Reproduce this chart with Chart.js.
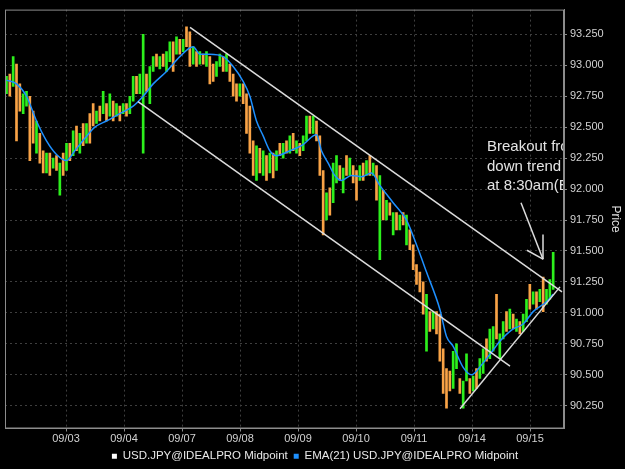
<!DOCTYPE html>
<html>
<head>
<meta charset="utf-8">
<script src="https://cdn.jsdelivr.net/npm/chart.js@4.4.1/dist/chart.umd.min.js"></script>
<style>
  html, body { margin: 0; padding: 0; background: #000; }
</style>
</head>
<body>
<canvas id="c" width="625" height="469"></canvas>
<script>
// one bar per price interval, left to right (x = bar index)
const highs = [
  92.91, 92.93, 93.07, 93.01, 92.85, 92.77, 92.79, 92.75, 92.63, 92.55,
  92.45, 92.31, 92.29, 92.29, 92.25, 92.27, 92.21, 92.29, 92.37, 92.37,
  92.47, 92.51, 92.45, 92.53, 92.53, 92.61, 92.69, 92.63, 92.67, 92.79,
  92.69, 92.77, 92.71, 92.69, 92.67, 92.69, 92.69, 92.75, 92.91, 92.91,
  92.93, 93.25, 92.93, 92.99, 93.07, 93.09, 93.07, 93.09, 93.11, 93.19,
  93.19, 93.23, 93.21, 93.21, 93.31, 93.27, 93.15, 93.11, 93.11, 93.09,
  93.11, 93.07, 93.01, 93.03, 93.09, 93.07, 93.09, 93.01, 92.93, 92.85,
  92.85, 92.85, 92.77, 92.67, 92.39, 92.35, 92.33, 92.31, 92.27, 92.29,
  92.29, 92.31, 92.37, 92.37, 92.39, 92.43, 92.45, 92.39, 92.37, 92.43,
  92.59, 92.59, 92.59, 92.55, 92.43, 92.15, 91.97, 92.01, 92.21, 92.27,
  92.19, 92.17, 92.27, 92.25, 92.19, 92.15, 92.19, 92.21, 92.23, 92.27,
  92.21, 92.19, 92.11, 91.99, 91.91, 91.89, 91.81, 91.81, 91.79, 91.81,
  91.79, 91.67, 91.55, 91.39, 91.33, 91.25, 91.15, 91.01, 91.01, 91.01,
  90.99, 90.71, 90.55, 90.53, 90.69, 90.75, 90.47, 90.45, 90.67, 90.47,
  90.49, 90.55, 90.63, 90.71, 90.79, 90.87, 90.89, 91.15, 90.83, 90.93,
  91.01, 91.03, 90.99, 90.95, 90.93, 90.99, 91.11, 91.23, 91.17, 91.17,
  91.19, 91.29, 91.19, 91.27, 91.49
];
const lows = [
  92.77, 92.75, 92.83, 92.39, 92.63, 92.61, 92.67, 92.23, 92.37, 92.29,
  92.21, 92.13, 92.13, 92.11, 92.17, 92.15, 91.95, 92.11, 92.15, 92.23,
  92.27, 92.31, 92.29, 92.35, 92.37, 92.37, 92.51, 92.53, 92.55, 92.61,
  92.55, 92.59, 92.55, 92.59, 92.55, 92.61, 92.59, 92.61, 92.71, 92.77,
  92.77, 92.29, 92.79, 92.69, 92.95, 92.99, 92.97, 92.99, 92.95, 93.03,
  92.95, 93.09, 93.09, 93.11, 93.15, 92.99, 93.01, 92.99, 93.01, 93.01,
  92.99, 92.85, 92.87, 92.91, 92.99, 92.95, 92.95, 92.87, 92.75, 92.71,
  92.75, 92.69, 92.45, 92.29, 92.11, 92.07, 92.13, 92.11, 92.07, 92.13,
  92.09, 92.15, 92.27, 92.25, 92.29, 92.29, 92.31, 92.29, 92.27, 92.31,
  92.39, 92.45, 92.45, 92.39, 92.11, 91.63, 91.75, 91.79, 91.89, 92.05,
  92.07, 91.97, 92.11, 92.11, 92.05, 91.91, 92.07, 92.07, 92.11, 92.11,
  92.11, 91.91, 91.43, 91.75, 91.75, 91.79, 91.63, 91.67, 91.67, 91.71,
  91.55, 91.51, 91.35, 91.23, 91.17, 90.99, 90.69, 90.85, 90.87, 90.83,
  90.61, 90.35, 90.23, 90.37, 90.39, 90.55, 90.35, 90.23, 90.45, 90.35,
  90.37, 90.39, 90.47, 90.51, 90.61, 90.63, 90.69, 90.79, 90.63, 90.79,
  90.85, 90.87, 90.87, 90.85, 90.83, 90.85, 90.93, 91.03, 91.07, 91.03,
  91.09, 91.01, 91.07, 91.11, 91.19
];
// 1 = closed up (green), 0 = closed down (orange)
const ups = [
  1,0,1,0,0,1,1,0,0,1, 0,0,1,0,1,0,1,0,1,0, 1,0,1,0,1,0,0,1,0,1,
  0,1,0,1,0,1,0,1,1,0, 1,1,0,1,1,0,1,0,1,1, 0,1,0,1,0,0,1,0,1,0,
  1,0,0,1,1,0,1,0,0,0, 1,0,0,0,0,1,0,1,0,1, 0,1,0,1,0,1,0,1,0,1,
  1,0,1,0,0,0,1,0,1,1, 0,1,0,1,0,0,1,0,1,0, 1,0,1,0,1,0,1,0,1,0,
  1,0,0,0,0,0,1,0,1,0, 0,0,0,0,1,1,0,1,1,0, 1,0,1,1,0,1,1,0,1,1,
  0,1,0,1,0,1,1,0,1,0, 1,0,1,1,1
];

// EMA(21) of the midpoint, sampled along the bars
const emaAt = [0, 3, 6, 9, 12, 15, 18, 20.5, 23.5, 26.5, 30, 34, 38, 41, 44, 48, 52, 56, 58, 61,
  65, 68, 71, 73, 75, 77, 79, 81, 85, 89, 92, 93, 94.5, 96.5, 98.5, 100.5, 103.5, 106.5, 109.5, 112,
  116, 120, 123, 126, 130, 132, 134, 137, 139.5, 142.5, 146, 148, 152, 155, 158, 162, 164];
const emaVals = [92.88, 92.85, 92.75, 92.55, 92.39, 92.28, 92.23, 92.31, 92.41, 92.50, 92.55, 92.61, 92.67, 92.75, 92.85, 92.95, 93.07, 93.15, 93.09, 93.09,
  93.07, 92.99, 92.87, 92.75, 92.55, 92.43, 92.31, 92.27, 92.31, 92.36, 92.43, 92.44, 92.31, 92.21, 92.11, 92.07, 92.11, 92.10, 92.13, 92.03,
  91.89, 91.75, 91.55, 91.33, 91.03, 90.81, 90.73, 90.56, 90.50, 90.58, 90.70, 90.77, 90.87, 90.91, 91.01, 91.09, 91.15];

const dayAt = [17.85, 35.25, 52.65, 70.05, 87.45, 104.85, 122.25, 139.65, 157.05];
const dayLabels = ["09/03", "09/04", "09/07", "09/08", "09/09", "09/10", "09/11", "09/14", "09/15"];
const priceTicks = [90.25, 90.5, 90.75, 91.0, 91.25, 91.5, 91.75, 92.0, 92.25, 92.5, 92.75, 93.0, 93.25];

// hand-drawn trend lines: [bar1, price1, bar2, price2]
const trendLines = [
  [55.05, 93.306, 166.65, 91.17],
  [39.45, 92.706, 151.05, 90.57],
  [136.05, 90.226, 166.05, 91.21],
  [154.35, 91.89, 160.95, 91.434],
  [160.95, 91.634, 160.95, 91.434],
  [156.15, 91.506, 160.95, 91.434],
];
const noteLines = ["Breakout from", "down trend", "at 8:30am(EST)"];
const noteAt = [144.15, 92.306];

const GREEN = "#2cf01c", ORANGE = "#f9a346", BLUE = "#1e90ff";
const FONT = '"Liberation Sans", Arial, sans-serif';

const overlay = {
  id: "overlay",
  afterDatasetsDraw(chart) {
    const { ctx, chartArea: a, scales: { x, y } } = chart;
    ctx.save();
    ctx.beginPath();
    ctx.rect(a.left, a.top, a.right - a.left, a.bottom - a.top);
    ctx.clip();
    ctx.strokeStyle = "#dcdcdc";
    ctx.lineWidth = 1.5;
    trendLines.forEach(([x1, y1, x2, y2]) => {
      ctx.beginPath();
      ctx.moveTo(x.getPixelForValue(x1), y.getPixelForValue(y1));
      ctx.lineTo(x.getPixelForValue(x2), y.getPixelForValue(y2));
      ctx.stroke();
    });
    ctx.fillStyle = "#e4e4e4";
    ctx.font = "15px " + FONT;
    ctx.textBaseline = "alphabetic";
    const nx = x.getPixelForValue(noteAt[0]), ny = y.getPixelForValue(noteAt[1]);
    noteLines.forEach((t, i) => ctx.fillText(t, nx, ny + i * 19.5));
    ctx.restore();
  },
  afterDraw(chart) {
    const { ctx, chartArea: a } = chart;
    ctx.save();
    ctx.strokeStyle = "#8c8c8c";
    ctx.lineWidth = 1;
    ctx.strokeRect(a.left + 0.5, a.top + 0.5, a.right - a.left - 1, a.bottom - a.top - 1);
    ctx.restore();
  },
};

new Chart(document.getElementById("c"), {
  data: {
    datasets: [
      {
        type: "bar",
        label: "USD.JPY@IDEALPRO Midpoint",
        data: highs.map((h, i) => ({ x: i, y: [lows[i], h] })),
        backgroundColor: ups.map((u) => (u ? GREEN : ORANGE)),
        barThickness: 2,
        order: 2,
      },
      {
        type: "line",
        label: "EMA(21) USD.JPY@IDEALPRO Midpoint",
        data: emaAt.map((b, i) => ({ x: b, y: emaVals[i] })),
        borderColor: BLUE,
        borderWidth: 1.5,
        pointRadius: 0,
        cubicInterpolationMode: "monotone",
        order: 1,
      },
    ],
  },
  options: {
    responsive: false,
    animation: false,
    layout: { padding: { left: 5, top: 5, right: 0, bottom: -3 } },
    scales: {
      x: {
        type: "linear",
        offset: false,
        min: -0.45,
        max: 167.25,
        afterFit: (s) => { s.height = 16; },
        afterBuildTicks: (s) => { s.ticks = dayAt.map((v) => ({ value: v })); },
        ticks: {
          color: "#d2d2d2",
          font: { family: FONT, size: 11 },
          padding: 1,
          maxRotation: 0,
          autoSkip: false,
          callback: (v) => dayLabels[dayAt.indexOf(v)],
        },
        grid: { offset: false, color: "#3e3e3e", tickColor: "#8c8c8c", tickLength: 3 },
        border: { color: "#8c8c8c", dash: [2, 3] },
      },
      y: {
        type: "linear",
        position: "right",
        min: 90.066,
        max: 93.45,
        afterFit: (s) => { s.width = 61; },
        afterBuildTicks: (s) => { s.ticks = priceTicks.map((v) => ({ value: v })); },
        ticks: {
          color: "#d2d2d2",
          font: { family: FONT, size: 11 },
          padding: 3,
          callback: (v) => v.toFixed(3),
        },
        grid: { color: "#3e3e3e", tickColor: "#8c8c8c", tickLength: 3 },
        border: { color: "#8c8c8c", dash: [2, 3] },
        title: { display: true, text: "Price", color: "#e0e0e0", font: { family: FONT, size: 12 }, padding: { top: 2, bottom: 0 } },
      },
    },
    plugins: {
      tooltip: { enabled: false },
      legend: {
        position: "bottom",
        labels: {
          color: "#e8e8e8",
          font: { family: FONT, size: 11.5 },
          boxWidth: 5,
          boxHeight: 5,
          padding: 6,
          generateLabels: (chart) => chart.data.datasets.map((d, i) => ({
            text: d.label,
            fillStyle: i === 0 ? "#ffffff" : BLUE,
            strokeStyle: i === 0 ? "#ffffff" : BLUE,
            lineWidth: 0,
            fontColor: "#e8e8e8",
            datasetIndex: i,
          })),
        },
      },
    },
  },
  plugins: [overlay],
});
</script>
</body>
</html>
